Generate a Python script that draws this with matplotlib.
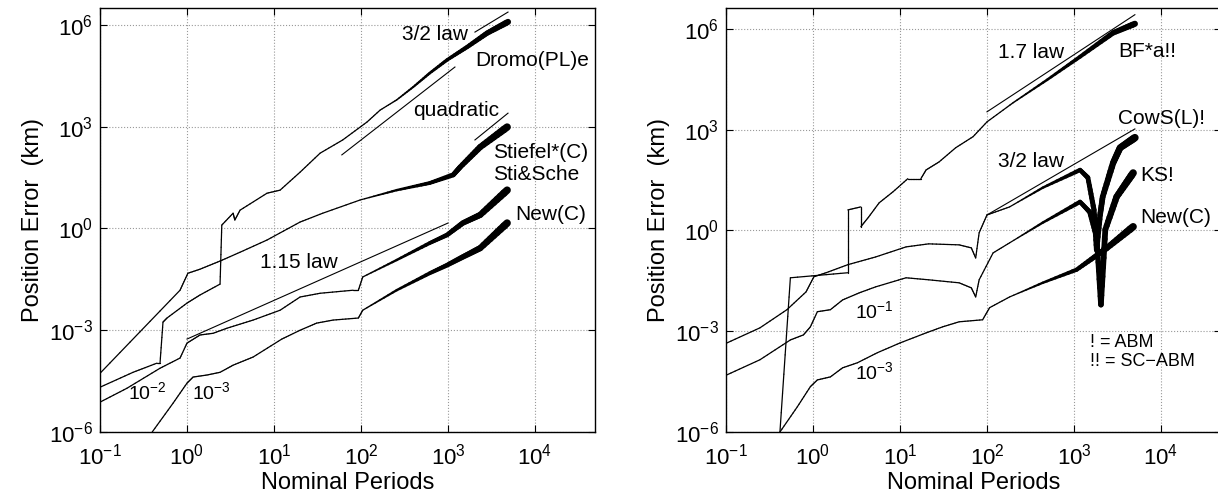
import numpy as np
import matplotlib
matplotlib.use("Agg")
import matplotlib.pyplot as plt
from matplotlib.collections import LineCollection
from matplotlib.ticker import NullLocator

plt.rcParams['font.family'] = ['Liberation Sans', 'DejaVu Sans']
plt.rcParams['mathtext.fontset'] = 'custom'
plt.rcParams['mathtext.rm'] = 'Liberation Sans'
plt.rcParams['mathtext.it'] = 'Liberation Sans'

# ---- left panel: curves as (log10 period, log10 error)
dromo_lx = [-1, -0.62, -0.345, -0.31, -0.276, -0.23, 0.0, 0.15, 0.38, 0.40, 0.53, 0.55, 0.61,
            0.92, 1.07, 1.30, 1.53, 1.79, 2.07, 2.22, 2.41, 2.60, 2.79, 2.99, 3.22, 3.45, 3.69]
dromo_ly = [-4.68, -4.24, -3.97, -3.97, -2.76, -2.64, -2.2, -1.96, -1.64, 0.1, 0.45, 0.25, 0.54,
            1.04, 1.13, 1.66, 2.22, 2.61, 3.14, 3.49, 3.79, 4.17, 4.58, 4.97, 5.35, 5.76, 6.09]

stiefel_lx = [-1, -0.08, 0.01, 0.15, 0.38, 0.61, 0.92, 1.30, 1.56, 1.99, 2.41, 2.79, 3.06,
              3.14, 3.37, 3.68]
stiefel_ly = [-4.27, -1.82, -1.32, -1.20, -0.96, -0.70, -0.34, 0.19, 0.45, 0.84, 1.13, 1.34,
              1.58, 1.81, 2.40, 2.99]

stische_lx = [-1, -0.69, -0.31, -0.08, 0.0, 0.15, 0.30, 0.46, 0.76, 1.07, 1.30, 1.53, 1.91,
              1.97, 2.02, 2.41, 2.79, 2.99, 3.17, 3.37, 3.68]
stische_ly = [-5.12, -4.71, -4.12, -3.82, -3.38, -3.14, -3.09, -2.94, -2.70, -2.41, -2.02,
              -1.91, -1.82, -1.82, -1.43, -0.93, -0.43, -0.19, 0.16, 0.40, 1.13]

newl_lx = [-0.40, -0.16, 0.0, 0.07, 0.23, 0.38, 0.53, 0.76, 1.09, 1.30, 1.49, 1.68, 1.97,
           2.02, 2.41, 2.79, 2.99, 3.17, 3.37, 3.68]
newl_ly = [-6.0, -5.15, -4.56, -4.38, -4.32, -4.24, -4.03, -3.79, -3.26, -3.0, -2.79, -2.70,
           -2.64, -2.41, -1.82, -1.32, -1.08, -0.84, -0.58, 0.16]

# guide lines (start, end) in log10 units
left_guides = {
    "3/2": ([3.31, 3.69], [5.79, 6.38]),
    "quad1": ([1.78, 3.08], [2.17, 4.76]),
    "quad2": ([3.31, 3.69], [2.61, 3.40]),
    "1.15": ([0.0, 3.0], [-3.26, 0.16]),
}

# ---- right panel
bfa_lx = [-0.38, -0.26, 0.40, 0.40, 0.55, 0.55, 0.64, 0.76, 0.92, 1.09, 1.24, 1.30, 1.45,
          1.64, 1.84, 2.0, 2.30, 2.69, 3.07, 3.45, 3.70]
bfa_ly = [-6.0, -1.41, -1.26, 0.61, 0.70, 0.11, 0.40, 0.82, 1.15, 1.54, 1.54, 1.80, 2.04,
          2.46, 2.79, 3.23, 3.80, 4.48, 5.17, 5.88, 6.15]

cows_lx = [-0.99, -0.61, -0.30, -0.08, 0.01, 0.15, 0.40, 0.72, 1.07, 1.33, 1.68, 1.82, 1.87,
           1.91, 2.0, 2.26, 2.64, 3.07, 3.16, 3.23, 3.26, 3.30, 3.33, 3.45, 3.53, 3.70]
cows_ly = [-3.35, -2.90, -2.36, -1.83, -1.38, -1.26, -1.02, -0.79, -0.49, -0.40, -0.43, -0.52,
           -0.82, -0.07, 0.46, 0.70, 1.27, 1.80, 1.57, 0.61, -0.58, 0.46, 1.0, 2.01, 2.46, 2.76]

ks_lx = [-0.99, -0.61, -0.26, -0.11, -0.03, 0.05, 0.20, 0.34, 0.53, 0.72, 1.07, 1.33, 1.68,
         1.82, 1.87, 1.91, 2.07, 2.26, 2.64, 3.07, 3.18, 3.26, 3.31, 3.36, 3.49, 3.68]
ks_ly = [-4.30, -3.85, -3.26, -3.11, -2.87, -2.42, -2.36, -2.07, -1.86, -1.68, -1.41, -1.47,
         -1.56, -1.71, -1.98, -1.47, -0.67, -0.37, 0.23, 0.85, 0.55, -0.19, -2.21, 0.02, 1.0, 1.71]

newr_lx = [-0.38, -0.18, -0.03, 0.05, 0.20, 0.34, 0.51, 0.74, 1.0, 1.30, 1.49, 1.68, 1.95,
           2.03, 2.26, 2.64, 3.03, 3.30, 3.38, 3.68]
newr_ly = [-6.0, -5.25, -4.65, -4.45, -4.36, -4.09, -3.94, -3.64, -3.35, -3.05, -2.87, -2.72,
           -2.66, -2.30, -1.98, -1.56, -1.17, -0.67, -0.52, 0.11]

right_guides = {
    "1.7": ([2.0, 3.70], [3.53, 6.42]),
    "3/2": ([2.0, 3.70], [0.46, 3.02]),
}


def draw_curve(ax, lx, ly, thick_from, max_lw):
    # thin at small periods, growing thicker where the oscillations pile up.
    # each straight piece is split into short bits so the width can grow smoothly
    lx = np.asarray(lx, float)
    ly = np.asarray(ly, float)
    segs, mids = [], []
    t = np.linspace(0, 1, 9)
    for i in range(len(lx) - 1):
        sx = lx[i] + t * (lx[i + 1] - lx[i])
        sy = ly[i] + t * (ly[i + 1] - ly[i])
        for j in range(len(t) - 1):
            segs.append([(10 ** sx[j], 10 ** sy[j]), (10 ** sx[j + 1], 10 ** sy[j + 1])])
            mids.append((sx[j] + sx[j + 1]) / 2)
    frac = np.clip((np.array(mids) - thick_from) / (3.7 - thick_from), 0, 1)
    lws = 0.9 + frac ** 1.2 * (max_lw - 0.9)
    lc = LineCollection(segs, colors='black', linewidths=lws, capstyle='round',
                        joinstyle='round')
    ax.add_collection(lc)


def setup(ax, ytop):
    ax.set_xscale('log')
    ax.set_yscale('log')
    ax.set_xlim(0.1, 10 ** 4.69)
    ax.set_ylim(1e-6, 10 ** ytop)
    ax.set_xticks([1e-1, 1e0, 1e1, 1e2, 1e3, 1e4])
    ax.set_yticks([1e-6, 1e-3, 1e0, 1e3, 1e6])
    ax.xaxis.set_minor_locator(NullLocator())
    ax.yaxis.set_minor_locator(NullLocator())
    ax.tick_params(direction='in', top=True, right=True, length=5, width=0.8,
                   labelsize=16)
    ax.tick_params(axis='x', pad=8)
    ax.tick_params(axis='y', pad=5)
    ax.grid(True, linestyle=':', color='0.6', linewidth=0.8)
    for s in ax.spines.values():
        s.set_linewidth(1.0)
    ax.set_xlabel('Nominal Periods', fontsize=17, labelpad=2)
    ax.set_ylabel('Position Error  (km)', fontsize=17)


fig = plt.figure(figsize=(12.18, 4.99), dpi=100)
ax1 = fig.add_axes([100 / 1218, 67 / 499, 495 / 1218, 424 / 499])
ax2 = fig.add_axes([726 / 1218, 67 / 499, 495 / 1218, 424 / 499])
setup(ax1, 6.5)
setup(ax2, 6.62)

draw_curve(ax1, dromo_lx, dromo_ly, 2.3, 4.5)
draw_curve(ax1, stiefel_lx, stiefel_ly, 2.0, 5.5)
draw_curve(ax1, stische_lx, stische_ly, 2.0, 5.5)
draw_curve(ax1, newl_lx, newl_ly, 2.0, 5.5)
for gx, gy in left_guides.values():
    ax1.plot(10 ** np.array(gx), 10 ** np.array(gy), color='black', lw=0.8)

draw_curve(ax2, bfa_lx, bfa_ly, 2.2, 4.5)
draw_curve(ax2, cows_lx, cows_ly, 2.3, 5.5)
draw_curve(ax2, ks_lx, ks_ly, 2.3, 5.5)
draw_curve(ax2, newr_lx, newr_ly, 2.3, 5.5)
for gx, gy in right_guides.values():
    ax2.plot(10 ** np.array(gx), 10 ** np.array(gy), color='black', lw=0.8)

# annotations (log10 positions, left aligned)
left_labels = [("3/2 law", 2.47, 5.73), ("Dromo(PL)e", 3.31, 4.94), ("quadratic", 2.60, 3.49),
               ("Stiefel*(C)", 3.52, 2.25), ("Sti&Sche", 3.52, 1.58), ("New(C)", 3.77, 0.40),
               ("1.15 law", 0.84, -0.99), (r"$10^{-2}$", -0.68, -4.83), (r"$10^{-3}$", 0.06, -4.83)]
right_labels = [("1.7 law", 2.13, 5.29), ("BF*a!!", 3.51, 5.32), ("CowS(L)!", 3.51, 3.32),
                ("3/2 law", 2.13, 2.04), ("KS!", 3.76, 1.63), ("New(C)", 3.76, 0.375),
                (r"$10^{-1}$", 0.48, -2.39), (r"$10^{-3}$", 0.48, -4.21)]
for txt, lx, ly in left_labels:
    fs = 14 if txt.startswith('$') else 15
    ax1.text(10 ** lx, 10 ** ly, txt, fontsize=fs, ha='left', va='center')
for txt, lx, ly in right_labels:
    fs = 14 if txt.startswith('$') else 15
    ax2.text(10 ** lx, 10 ** ly, txt, fontsize=fs, ha='left', va='center')
ax2.text(10 ** 3.18, 10 ** -3.35, "! = ABM", fontsize=13, ha='left', va='center')
ax2.text(10 ** 3.18, 10 ** -3.91, "!! = SC\u2212ABM", fontsize=13, ha='left', va='center')

fig.savefig('out.png', dpi=100)
